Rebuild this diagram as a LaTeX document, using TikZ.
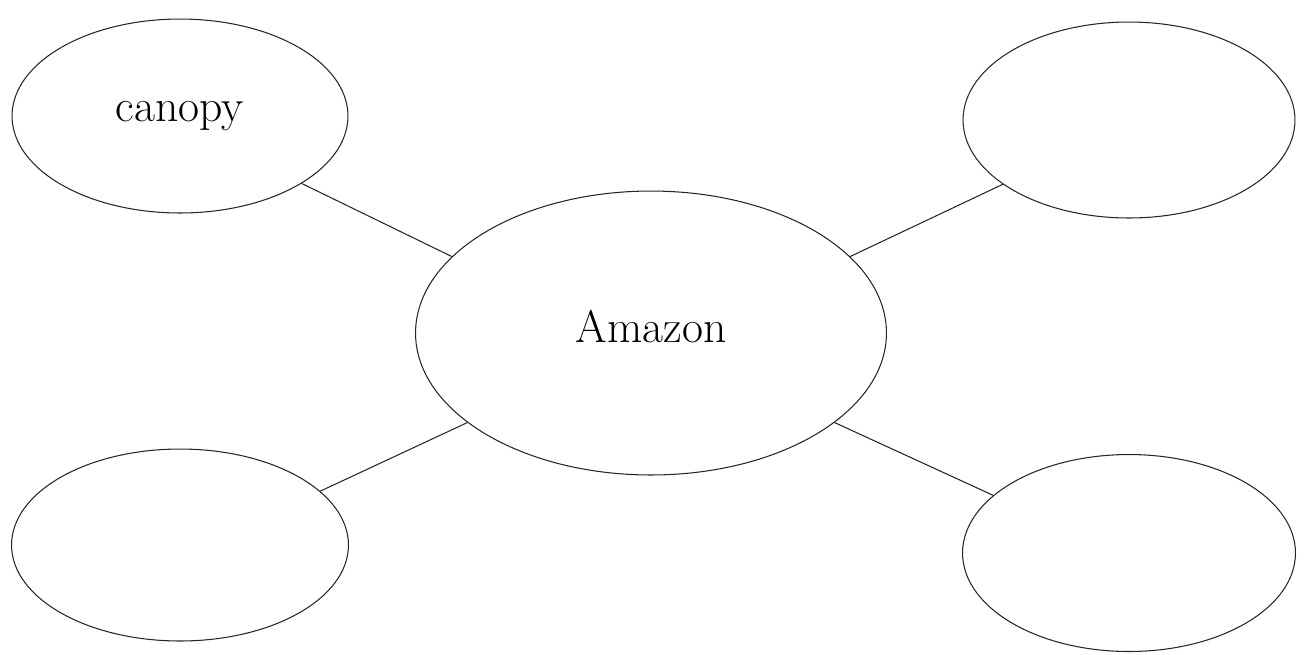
\documentclass[tikz,border=0pt]{standalone}
\usetikzlibrary{shapes.geometric}
\tikzset{
	bubble/.style={ellipse, draw=black!85, line width=0.6pt, inner sep=0pt, font=\fontsize{26}{31}\selectfont},
	spoke/.style={draw=black!85, line width=0.6pt},
}
\begin{document}
\begin{tikzpicture}[x=0.02cm, y=-0.02cm]
				\useasboundingbox (0,0) rectangle (1305,654);
				
				\node[bubble, minimum width=9.42cm, minimum height=5.68cm, text depth=0.28cm](amazon) at (651,333) {Amazon};
				\node[bubble, minimum width=6.72cm, minimum height=3.88cm](canopy) at (180,116) {canopy};
				\node[bubble, minimum width=6.64cm, minimum height=3.92cm](topright) at (1129,120) {};
				\node[bubble, minimum width=6.74cm, minimum height=3.84cm](botleft) at (180,545) {};
				\node[bubble, minimum width=6.66cm, minimum height=3.94cm](botright) at (1129,553) {};
				
				\draw[spoke] (amazon.159) -- (canopy.-29);
				\draw[spoke] (amazon.21) -- (topright.207);
				\draw[spoke] (amazon.206) -- (botleft.21);
				\draw[spoke] (amazon.-26) -- (botright.157);
				\end{tikzpicture}
\end{document}
